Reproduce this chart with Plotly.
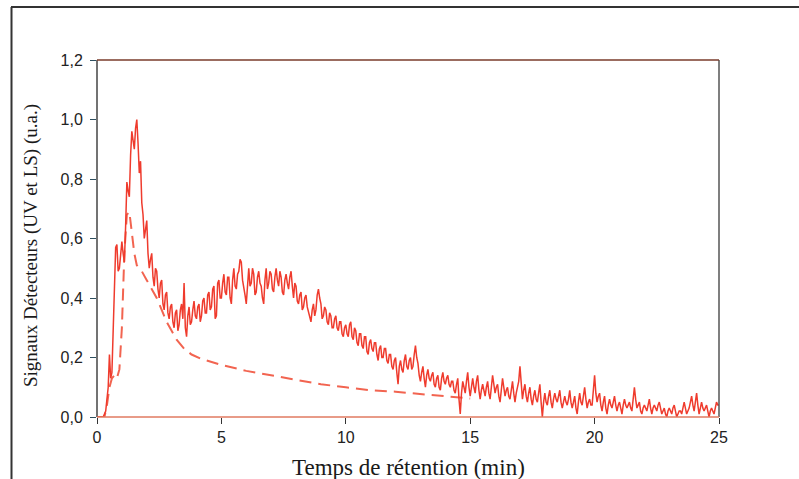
import numpy as np
import plotly.graph_objects as go

# Light-scattering (LS) detector signal, sampled every 0.05 min from 0 to 25 min
ls_time = np.round(np.linspace(0, 25, 501), 2)
ls_signal = [
    # 0 - 0.95
    0.00, 0.00, 0.00, 0.00, 0.00, 0.00, 0.01, 0.02, 0.06, 0.10,
    0.21, 0.13, 0.15, 0.30, 0.48, 0.57, 0.58, 0.49, 0.50, 0.56,
    # 1 - 1.95
    0.59, 0.55, 0.52, 0.64, 0.79, 0.76, 0.74, 0.88, 0.96, 0.93,
    0.90, 0.97, 1.00, 0.92, 0.82, 0.86, 0.72, 0.68, 0.60, 0.63,
    # 2 - 2.95
    0.66, 0.55, 0.50, 0.53, 0.55, 0.47, 0.44, 0.50, 0.49, 0.43,
    0.40, 0.45, 0.46, 0.38, 0.36, 0.41, 0.42, 0.35, 0.33, 0.37,
    # 3 - 3.95
    0.38, 0.32, 0.30, 0.35, 0.36, 0.29, 0.31, 0.36, 0.38, 0.33,
    0.45, 0.30, 0.27, 0.34, 0.37, 0.31, 0.32, 0.36, 0.39, 0.34,
    # 4 - 4.95
    0.33, 0.37, 0.38, 0.32, 0.34, 0.39, 0.40, 0.35, 0.35, 0.41,
    0.42, 0.36, 0.37, 0.43, 0.44, 0.33, 0.34, 0.45, 0.46, 0.40,
    # 5 - 5.95
    0.40, 0.45, 0.48, 0.42, 0.41, 0.47, 0.47, 0.40, 0.38, 0.46,
    0.50, 0.44, 0.43, 0.48, 0.49, 0.53, 0.52, 0.46, 0.44, 0.41,
    # 6 - 6.95
    0.38, 0.45, 0.50, 0.44, 0.45, 0.50, 0.48, 0.41, 0.42, 0.47,
    0.49, 0.45, 0.44, 0.40, 0.38, 0.46, 0.50, 0.43, 0.45, 0.49,
    # 7 - 7.95
    0.48, 0.43, 0.42, 0.47, 0.50, 0.46, 0.44, 0.49, 0.47, 0.42,
    0.41, 0.46, 0.48, 0.45, 0.43, 0.47, 0.49, 0.44, 0.40, 0.45,
    # 8 - 8.95
    0.44, 0.39, 0.38, 0.41, 0.42, 0.36, 0.37, 0.40, 0.41, 0.37,
    0.35, 0.33, 0.32, 0.36, 0.38, 0.34, 0.36, 0.41, 0.43, 0.40,
    # 9 - 9.95
    0.38, 0.33, 0.34, 0.37, 0.36, 0.32, 0.31, 0.35, 0.34, 0.30,
    0.30, 0.33, 0.34, 0.30, 0.29, 0.32, 0.32, 0.28, 0.27, 0.30,
    # 10 - 10.95
    0.31, 0.28, 0.27, 0.31, 0.32, 0.27, 0.26, 0.30, 0.29, 0.25,
    0.24, 0.28, 0.28, 0.24, 0.23, 0.27, 0.27, 0.22, 0.21, 0.25,
    # 11 - 11.95
    0.26, 0.23, 0.22, 0.25, 0.25, 0.21, 0.19, 0.23, 0.24, 0.20,
    0.20, 0.23, 0.23, 0.19, 0.18, 0.21, 0.21, 0.17, 0.16, 0.19,
    # 12 - 12.95
    0.20, 0.15, 0.11, 0.17, 0.19, 0.16, 0.15, 0.19, 0.21, 0.17,
    0.16, 0.19, 0.20, 0.16, 0.17, 0.21, 0.24, 0.20, 0.18, 0.14,
    # 13 - 13.95
    0.12, 0.15, 0.17, 0.13, 0.10, 0.14, 0.16, 0.13, 0.12, 0.14,
    0.15, 0.11, 0.10, 0.13, 0.14, 0.10, 0.09, 0.13, 0.15, 0.12,
    # 14 - 14.95
    0.11, 0.13, 0.14, 0.11, 0.10, 0.12, 0.12, 0.09, 0.08, 0.11,
    0.13, 0.06, 0.01, 0.08, 0.12, 0.10, 0.08, 0.12, 0.15, 0.10,
    # 15 - 15.95
    0.07, 0.10, 0.13, 0.10, 0.08, 0.12, 0.14, 0.09, 0.06, 0.09,
    0.11, 0.09, 0.07, 0.10, 0.12, 0.08, 0.06, 0.10, 0.14, 0.11,
    # 16 - 16.95
    0.08, 0.10, 0.11, 0.07, 0.05, 0.09, 0.13, 0.10, 0.07, 0.09,
    0.10, 0.07, 0.06, 0.09, 0.12, 0.08, 0.05, 0.08, 0.10, 0.12,
    # 17 - 17.95
    0.17, 0.10, 0.06, 0.09, 0.11, 0.07, 0.05, 0.08, 0.10, 0.06,
    0.04, 0.07, 0.09, 0.06, 0.05, 0.08, 0.11, 0.05, 0.00, 0.05,
    # 18 - 18.95
    0.08, 0.05, 0.04, 0.07, 0.09, 0.05, 0.03, 0.06, 0.08, 0.06,
    0.05, 0.07, 0.09, 0.05, 0.03, 0.05, 0.07, 0.05, 0.04, 0.06,
    # 19 - 19.95
    0.09, 0.05, 0.03, 0.05, 0.07, 0.03, 0.01, 0.05, 0.08, 0.05,
    0.04, 0.07, 0.10, 0.06, 0.03, 0.05, 0.06, 0.04, 0.04, 0.09,
    # 20 - 20.95
    0.14, 0.08, 0.05, 0.07, 0.08, 0.04, 0.02, 0.05, 0.07, 0.03,
    0.01, 0.04, 0.06, 0.04, 0.03, 0.05, 0.07, 0.04, 0.02, 0.04,
    # 21 - 21.95
    0.05, 0.03, 0.01, 0.04, 0.06, 0.04, 0.03, 0.04, 0.05, 0.03,
    0.02, 0.06, 0.10, 0.06, 0.03, 0.04, 0.05, 0.02, 0.01, 0.03,
    # 22 - 22.95
    0.04, 0.03, 0.02, 0.04, 0.06, 0.03, 0.01, 0.03, 0.04, 0.03,
    0.02, 0.04, 0.05, 0.03, 0.01, 0.02, 0.03, 0.01, 0.00, 0.02,
    # 23 - 23.95
    0.03, 0.02, 0.01, 0.03, 0.04, 0.02, 0.00, 0.01, 0.02, 0.02,
    0.01, 0.03, 0.05, 0.03, 0.01, 0.02, 0.03, 0.05, 0.07, 0.04,
    # 24 - 24.95
    0.02, 0.05, 0.08, 0.04, 0.01, 0.03, 0.05, 0.03, 0.02, 0.03,
    0.04, 0.02, 0.00, 0.02, 0.03, 0.02, 0.01, 0.03, 0.05, 0.04,
    # 25
    0.04,
]

# UV detector signal (smooth trace)
uv_time = [0, 0.3, 0.4, 0.5, 0.6, 0.7, 0.8, 0.9, 1.0, 1.1, 1.2, 1.3, 1.4,
           1.5, 1.6, 1.8, 2.0, 2.2, 2.4, 2.6, 2.8, 3.0, 3.2, 3.5, 3.8, 4.2,
           5.0, 6.0, 7.0, 8.0, 9.0, 10.0, 11.0, 12.0, 13.0, 14.0, 15.0]
uv_signal = [0, 0, 0.04, 0.10, 0.13, 0.14, 0.13, 0.16, 0.30, 0.55, 0.68,
             0.69, 0.62, 0.55, 0.51, 0.49, 0.46, 0.43, 0.40, 0.36, 0.32,
             0.29, 0.26, 0.23, 0.21, 0.195, 0.175, 0.155, 0.14, 0.125,
             0.11, 0.10, 0.09, 0.085, 0.078, 0.07, 0.062]

x_ticks = [0, 5, 10, 15, 20, 25]
y_ticks = [0.0, 0.2, 0.4, 0.6, 0.8, 1.0, 1.2]
y_tick_labels = ["0,0", "0,2", "0,4", "0,6", "0,8", "1,0", "1,2"]

W, H = 799, 479
L, R, T, B = 97, 80, 60, 62
plot_w, plot_h = W - L - R, H - T - B


def px(xp):
    return (xp - L) / plot_w


def py(yp):
    return (H - B - yp) / plot_h


fig = go.Figure()
fig.add_trace(go.Scatter(
    x=uv_time, y=uv_signal, mode="lines",
    line=dict(color="#f26450", width=2, dash="12px,7px"),
    hoverinfo="skip", showlegend=False,
))
fig.add_trace(go.Scatter(
    x=ls_time, y=ls_signal, mode="lines",
    line=dict(color="#ef3b2d", width=1.5),
    hoverinfo="skip", showlegend=False,
))

shapes = [
    # outer frame (left and top)
    dict(type="line", xref="paper", yref="paper", x0=px(11.5), x1=px(11.5),
         y0=py(7), y1=py(479), line=dict(color="#333333", width=2)),
    dict(type="line", xref="paper", yref="paper", x0=px(11), x1=px(799),
         y0=py(7), y1=py(7), line=dict(color="#333333", width=2)),
    # plot box
    dict(type="line", xref="paper", yref="paper", x0=0, x1=0, y0=0, y1=1,
         line=dict(color="#444444", width=1.5)),
    dict(type="line", xref="paper", yref="paper", x0=1, x1=1, y0=0, y1=1,
         line=dict(color="#555555", width=1.5)),
    dict(type="line", xref="paper", yref="paper", x0=0, x1=1, y0=1, y1=1,
         line=dict(color="#7a3b2b", width=1.5)),
    dict(type="line", xref="paper", yref="paper", x0=0, x1=1, y0=0, y1=0,
         line=dict(color="#e07a60", width=1.5)),
]

annotations = [
    dict(text="Temps de rétention (min)", xref="paper", yref="paper",
         x=px(408), y=py(467), xanchor="center", yanchor="middle",
         showarrow=False,
         font=dict(family="Liberation Serif", size=23, color="#1a1a1a")),
    dict(text="Signaux Détecteurs (UV et LS) (u.a.)", xref="paper", yref="paper",
         x=px(31), y=py(246), xanchor="center", yanchor="middle",
         textangle=-90, showarrow=False,
         font=dict(family="Liberation Serif", size=19, color="#1a1a1a")),
]

fig.update_layout(
    width=W, height=H,
    margin=dict(l=L, r=R, t=T, b=B),
    paper_bgcolor="white", plot_bgcolor="white",
    shapes=shapes, annotations=annotations,
    xaxis=dict(range=[0, 25], tickvals=x_ticks, ticks="outside", ticklen=6,
               tickcolor="#333333", showgrid=False, zeroline=False,
               showline=False,
               tickfont=dict(family="Liberation Sans", size=16, color="#222222")),
    yaxis=dict(range=[0, 1.2], tickvals=y_ticks, ticktext=y_tick_labels,
               ticks="outside", ticklen=6, tickcolor="#2f5060",
               showgrid=False, zeroline=False, showline=False,
               ticklabelstandoff=4,
               tickfont=dict(family="Liberation Sans", size=16, color="#222222")),
)

fig.write_html("out.html")
